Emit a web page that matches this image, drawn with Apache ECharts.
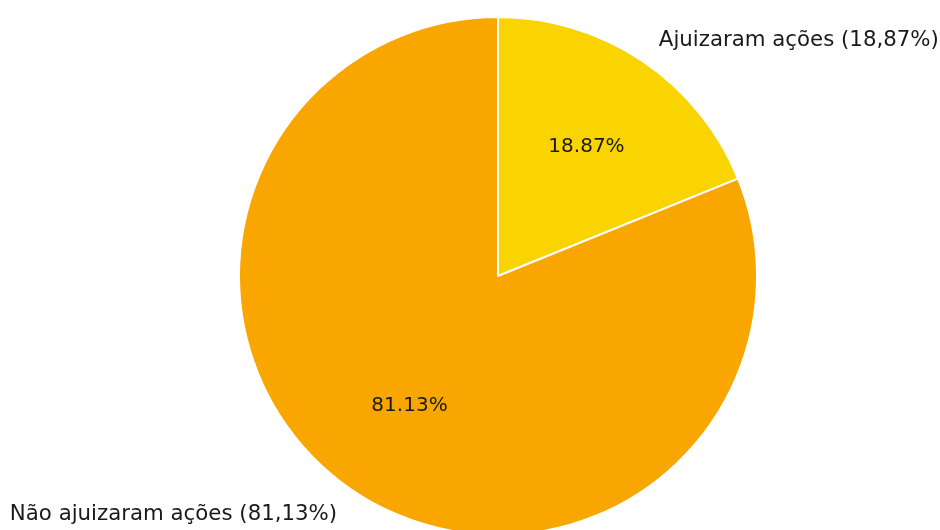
<!DOCTYPE html>
<html>
<head>
<meta charset="utf-8">
<script src="https://cdn.jsdelivr.net/npm/echarts@6/dist/echarts.min.js"></script>
<style>html,body{margin:0;padding:0;background:#fff;}#c{width:940px;height:530px;}</style>
</head>
<body>
<div id="c"></div>
<script>
var categories = ['Ajuizaram ações', 'Não ajuizaram ações'];
var values = [18.87, 81.13];
var outerLabels = ['Ajuizaram ações (18,87%)', 'Não ajuizaram ações (81,13%)'];
var innerLabels = ['18.87%', '81.13%'];
var colors = ['#F9D400', '#F9A600'];

var R = 259;
var center = [498, 276];
var font = 'DejaVu Sans';
var innerOffsets = [[0, 2], [0, -2]];
var outerOffsets = [[0, 3], [0, 0]];

var chart = echarts.init(document.getElementById('c'), null, { renderer: 'canvas' });
chart.setOption({
  animation: false,
  backgroundColor: '#ffffff',
  textStyle: { fontFamily: font },
  series: [
    {
      type: 'pie',
      center: center,
      radius: [0, R],
      startAngle: 90,
      clockwise: true,
      silent: true,
      label: { show: false },
      labelLine: { show: false },
      itemStyle: { borderColor: '#ffffff', borderWidth: 2 },
      data: categories.map(function (c, i) {
        return { name: c, value: values[i], itemStyle: { color: colors[i] } };
      })
    },
    {
      type: 'pie',
      center: center,
      radius: [0, R * 1.2],
      startAngle: 90,
      clockwise: true,
      silent: true,
      itemStyle: { color: 'rgba(0,0,0,0)' },
      label: {
        show: true, position: 'inside', color: '#1a1a1a',
        fontFamily: font, fontSize: 20,
        formatter: function (p) { return innerLabels[p.dataIndex]; }
      },
      labelLine: { show: false },
      data: categories.map(function (c, i) {
        return { name: c, value: values[i], label: { offset: innerOffsets[i] } };
      })
    },
    {
      type: 'pie',
      center: center,
      radius: [0, R * 2.2],
      startAngle: 90,
      clockwise: true,
      silent: true,
      itemStyle: { color: 'rgba(0,0,0,0)' },
      label: {
        show: true, position: 'inside', color: '#1a1a1a',
        fontFamily: font, fontSize: 21.3,
        formatter: function (p) { return outerLabels[p.dataIndex]; }
      },
      labelLine: { show: false },
      labelLayout: function (p) {
        return { align: p.dataIndex === 0 ? 'left' : 'right', verticalAlign: 'middle' };
      },
      data: categories.map(function (c, i) {
        return { name: c, value: values[i], label: { offset: outerOffsets[i] } };
      })
    }
  ]
});
</script>
</body>
</html>
